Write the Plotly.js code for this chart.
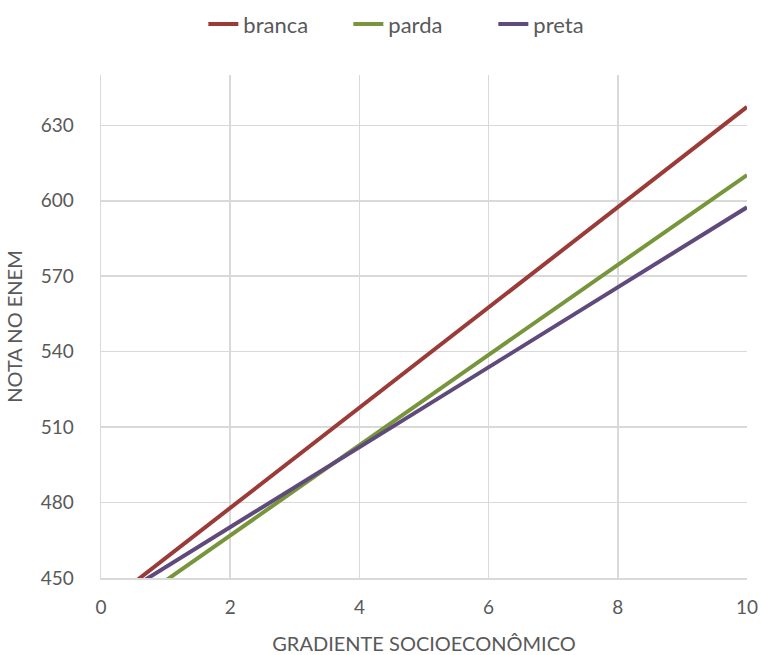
<!DOCTYPE html>
<html>
<head>
<meta charset="utf-8">
<script src="https://cdn.plot.ly/plotly-3.0.1.min.js"></script>
<style>html,body{margin:0;padding:0;background:#fff;}#chart{width:761px;height:655px;}</style>
</head>
<body>
<div id="chart"></div>
<script>
const xValues = [0, 2, 4, 6, 8, 10];
const branca = [438.0, 477.8, 517.7, 557.5, 597.4, 637.3];
const parda  = [431.0, 467.0, 503.0, 538.7, 574.5, 610.2];
const preta  = [438.4, 470.2, 502.0, 533.8, 565.6, 597.4];
const seriesNames = ['branca', 'parda', 'preta'];
const seriesColors = ['#9B3B38', '#77963C', '#604A7B'];
const yTicks = [450, 480, 510, 540, 570, 600, 630];
const xTicks = [0, 2, 4, 6, 8, 10];

const allY = [branca, parda, preta];
const traces = allY.map((ys, i) => ({
  x: xValues, y: ys, name: seriesNames[i], type: 'scatter', mode: 'lines',
  line: {color: seriesColors[i], width: 4}
}));

const fontFam = 'Lato, "Open Sans", sans-serif';
const layout = {
  width: 761, height: 655,
  margin: {l: 101, r: 14, t: 75, b: 77},
  paper_bgcolor: '#ffffff', plot_bgcolor: '#ffffff',
  font: {family: fontFam, color: '#595959', size: 19},
  showlegend: true,
  legend: {orientation: 'h', xref: 'container', yref: 'container', x: 0.553, xanchor: 'center', y: 0.963, yanchor: 'middle',
           font: {size: 22, color: '#595959'}, itemwidth: 30, tracegroupgap: 0,
           entrywidthmode: 'pixels', entrywidth: 100},
  xaxis: {
    range: [0, 10], tickvals: xTicks, ticktext: xTicks.map(String),
    showgrid: true, gridcolor: '#D9D9D9', gridwidth: 1.5,
    zeroline: false, showline: true, linecolor: '#D9D9D9', linewidth: 1.5,
    ticks: '', ticklabelstandoff: 12,
    tickfont: {size: 19, color: '#595959'},
    title: {text: 'GRADIENTE SOCIOECONÔMICO', font: {size: 20, color: '#595959'}, standoff: 21}
  },
  yaxis: {
    range: [450, 650], tickvals: yTicks, ticktext: yTicks.map(String),
    showgrid: true, gridcolor: '#D9D9D9', gridwidth: 1.5,
    zeroline: false, showline: true, linecolor: '#D9D9D9', linewidth: 1.5,
    ticks: '', ticklabelstandoff: 22,
    tickfont: {size: 19, color: '#595959'},
    title: {text: 'NOTA NO ENEM', font: {size: 20, color: '#595959'}, standoff: 12}
  }
};
Plotly.newPlot('chart', traces, layout, {displayModeBar: false, staticPlot: true});
</script>
</body>
</html>
